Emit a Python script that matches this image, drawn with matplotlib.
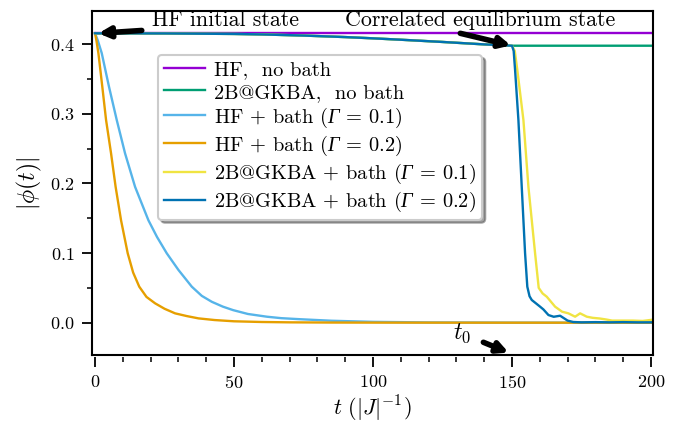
import numpy as np
import matplotlib
matplotlib.use("Agg")
import matplotlib.pyplot as plt
from matplotlib.ticker import MultipleLocator

plt.rcParams['font.family'] = ['cmr10', 'DejaVu Serif']
plt.rcParams['mathtext.fontset'] = 'cm'
plt.rcParams['axes.formatter.use_mathtext'] = True
plt.rcParams['axes.unicode_minus'] = False
# used only by the legend texts (math_fontfamily='custom') to get an italic capital Gamma
plt.rcParams['mathtext.rm'] = 'Liberation Serif:italic'
plt.rcParams['mathtext.it'] = 'Liberation Serif:italic'

# ---------------- data ----------------
labels = [r'HF,  no bath',
          r'2B@GKBA,  no bath',
          r'HF + bath ($\Gamma$ = 0.1)',
          r'HF + bath ($\Gamma$ = 0.2)',
          r'2B@GKBA + bath ($\Gamma$ = 0.1)',
          r'2B@GKBA + bath ($\Gamma$ = 0.2)']
colors = ['#9400D3', '#009E73', '#56B4E9', '#E69F00', '#F0E442', '#0072B2']

t_hf = [0, 200]
phi_hf = [0.4154, 0.4154]

t_gkba_pre = [0, 25, 50, 60, 75, 90, 100, 110, 125, 140, 150]
phi_gkba_pre = [0.4154, 0.4152, 0.4145, 0.4138, 0.4122, 0.4100, 0.4082, 0.4062, 0.4030, 0.3995, 0.3976]
t_gkba_post = [155, 170, 185, 200]
phi_gkba_post = [0.3976, 0.3976, 0.3976, 0.3976]

t_hf_b1 = [0, 1.0, 2.4, 5.0, 7.8, 10.8, 14.4, 16.8, 19.2, 22.3, 25.8, 30, 34.8, 38.4, 42, 46, 49.7, 55,
           61.8, 67, 73.7, 85, 100, 120, 150, 200]
phi_hf_b1 = [0.4154, 0.405, 0.387, 0.339, 0.291, 0.243, 0.195, 0.171, 0.147, 0.123, 0.0996, 0.0757, 0.0517,
             0.0385, 0.030, 0.023, 0.018, 0.0125, 0.0086, 0.0065, 0.0050, 0.0028, 0.0012, 0.0004, 0.0001, 0.0]

t_hf_b2 = [0, 0.5, 1.2, 2.6, 3.96, 5.76, 7.4, 9.35, 11.75, 13.7, 15.9, 18.5, 21.6, 25.0, 28.8, 33.0, 37.2,
           43.0, 50, 60, 70, 85, 100, 150, 200]
phi_hf_b2 = [0.4154, 0.405, 0.387, 0.339, 0.291, 0.243, 0.195, 0.147, 0.0996, 0.072, 0.0517, 0.037, 0.0278,
             0.0200, 0.0134, 0.0095, 0.0062, 0.0038, 0.0020, 0.0010, 0.0005, 0.0002, 0.0001, 0.0, 0.0]

t_gkba_b1_post = [151.0, 151.9, 154.1, 155.9, 158.3, 159.6, 161.0, 162.5, 165.5, 168.0, 170.3, 172.7, 174.5,
                  176.9, 179.0, 181.6, 184.0, 186.0, 190.0, 193.5, 197.0, 200]
phi_gkba_b1_post = [0.390, 0.363, 0.291, 0.195, 0.0996, 0.050, 0.042, 0.0373, 0.023, 0.0158, 0.0134, 0.0086,
                    0.0134, 0.0086, 0.0070, 0.0060, 0.0045, 0.0030, 0.0030, 0.0030, 0.0025, 0.0040]

t_gkba_b2_post = [150.6, 151.1, 152.3, 153.5, 154.7, 155.5, 156.3, 157.1, 160.1, 161.3, 163.1, 165.0, 167.3,
                  170.0, 172.0, 175.0, 180.0, 185.0, 190.0, 195.0, 200]
phi_gkba_b2_post = [0.390, 0.363, 0.291, 0.195, 0.0996, 0.0517, 0.038, 0.0326, 0.023, 0.019, 0.011, 0.0085,
                    0.010, 0.003, 0.001, 0.0005, 0.0008, 0.0005, 0.0008, 0.0005, 0.0005]

# ---------------- figure ----------------
fig = plt.figure(figsize=(6.83, 4.24), dpi=100)
ax = fig.add_axes([0.1351, 0.1627, 0.956 - 0.1351, 0.974 - 0.1627])

lw = 1.7
ax.plot(t_hf, phi_hf, color=colors[0], lw=lw, label=labels[0])
ax.plot(t_gkba_pre + t_gkba_post, phi_gkba_pre + phi_gkba_post, color=colors[1], lw=lw, label=labels[1])
ax.plot(t_hf_b1, phi_hf_b1, color=colors[2], lw=lw, label=labels[2])
ax.plot(t_hf_b2, phi_hf_b2, color=colors[3], lw=lw, label=labels[3])
ax.plot(t_gkba_pre + t_gkba_b1_post, phi_gkba_pre + phi_gkba_b1_post, color=colors[4], lw=lw, label=labels[4])
ax.plot(t_gkba_pre + t_gkba_b2_post, phi_gkba_pre + phi_gkba_b2_post, color=colors[5], lw=lw, label=labels[5])

ax.set_xlim(-1, 200.7)
ax.set_ylim(-0.0464, 0.4474)

ax.xaxis.set_major_locator(MultipleLocator(50))
ax.xaxis.set_minor_locator(MultipleLocator(10))
ax.yaxis.set_major_locator(MultipleLocator(0.1))
ax.yaxis.set_minor_locator(MultipleLocator(0.05))
ax.tick_params(which='major', length=7, width=1.3, labelsize=13, direction='out')
ax.tick_params(which='minor', length=3.5, width=1.1, direction='out')
ax.tick_params(axis='x', which='both', pad=5)
ax.tick_params(axis='y', which='both', pad=6)

for s in ax.spines.values():
    s.set_linewidth(1.5)
# offset the x ticks slightly below the frame
ax.spines['bottom'].set_position(('outward', 1.5))
ax.spines['bottom'].set_visible(False)
ax.plot([0, 1], [0, 0], transform=ax.transAxes, color='black', lw=1.5, clip_on=False,
        solid_capstyle='projecting', zorder=5)

ax.set_xlabel(r'$t\ (|J|^{-1})$', fontsize=16, labelpad=2)
ax.set_ylabel(r'$|\phi(t)|$', fontsize=17)

leg = ax.legend(loc='upper left', bbox_to_anchor=(0.1177, 0.872), borderaxespad=0,
                prop=dict(size=14.7, math_fontfamily='custom'),
                frameon=True, fancybox=True, shadow=True, handlelength=2.0,
                labelspacing=0.19, handletextpad=0.45, borderpad=0.3)
leg.get_frame().set_edgecolor('#cccccc')
leg.get_frame().set_linewidth(1.5)
for txt in leg.get_texts():
    txt.set_math_fontfamily('custom')

arrow_kw = dict(arrowstyle='-|>', color='black', lw=4, mutation_scale=16,
                shrinkA=0, shrinkB=0, capstyle='round')
# HF initial state
ax.annotate('', xy=(1.2, 0.4154), xytext=(16.8, 0.4195), arrowprops=arrow_kw)
ax.text(20.5, 0.4345, 'HF initial state', fontsize=15.8, va='center', ha='left')
# Correlated equilibrium state
ax.annotate('', xy=(149.6, 0.3980), xytext=(131.4, 0.4154), arrowprops=arrow_kw)
ax.text(90.0, 0.4345, 'Correlated equilibrium state', fontsize=15.8, va='center', ha='left')
# t0
ax.annotate('', xy=(148.8, -0.0430), xytext=(139.7, -0.0281), arrowprops=arrow_kw)
ax.text(132.0, -0.0152, r'$t_0$', fontsize=17, va='center', ha='center')

fig.savefig('out.png', dpi=100)
